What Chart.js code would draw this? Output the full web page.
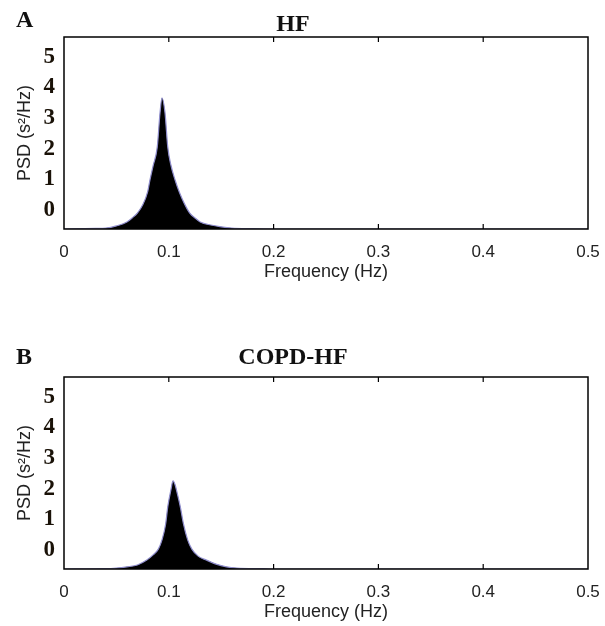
<!DOCTYPE html>
<html>
<head>
<meta charset="utf-8">
<script src="https://cdn.jsdelivr.net/npm/chart.js@4/dist/chart.umd.min.js"></script>
<style>
  html, body { margin: 0; padding: 0; background: #fff; overflow: hidden; }
  .panel { position: absolute; left: 0; width: 605px; height: 300px; }
</style>
</head>
<body>
<div class="panel" style="top:0px"><canvas id="chartA"></canvas></div>
<div class="panel" style="top:340px"><canvas id="chartB"></canvas></div>
<script>
// HF panel (A)
const hfFreq = [0, 0.03, 0.04, 0.05, 0.06, 0.065, 0.07, 0.075, 0.08, 0.082,
    0.085, 0.089, 0.0916, 0.0935, 0.0964, 0.099, 0.102, 0.106, 0.11, 0.115,
    0.12, 0.125, 0.13, 0.14, 0.15, 0.16, 0.18, 0.2, 0.5];
const hfPsd = [-0.62, -0.60, -0.59, -0.52, -0.39, -0.26, -0.10, 0.16, 0.62, 0.98,
    1.44, 2.06, 3.17, 3.66, 3.17, 2.06, 1.47, 0.98, 0.59, 0.20,
    -0.10, -0.26, -0.39, -0.49, -0.55, -0.59, -0.61, -0.62, -0.62];

// COPD-HF panel (B)
const copdFreq = [0, 0.04, 0.05, 0.06, 0.07, 0.079, 0.085, 0.09, 0.0935, 0.097,
    0.099, 0.102, 0.104, 0.106, 0.108, 0.111, 0.114, 0.118, 0.122, 0.128,
    0.136, 0.145, 0.155, 0.165, 0.19, 0.2, 0.5];
const copdPsd = [-0.62, -0.61, -0.59, -0.55, -0.49, -0.33, -0.16, 0.03, 0.33, 0.85,
    1.41, 1.96, 2.26, 2.13, 1.86, 1.41, 0.85, 0.33, 0.03, -0.20,
    -0.33, -0.46, -0.55, -0.59, -0.61, -0.62, -0.62];

const yTickValues = [0, 1, 2, 3, 4, 5];
const xMin = 0, xMax = 0.5, xStep = 0.1;
const yMin = -0.62, yMax = 5.65;

// box round the plot + inward tick marks top and bottom
const frameAndText = {
    id: 'frameAndText',
    afterDraw(chart, args, opts) {
        const ctx = chart.ctx;
        const area = chart.chartArea;
        const xs = chart.scales.x;
        ctx.save();
        ctx.strokeStyle = '#000';
        ctx.lineWidth = 1.5;
        ctx.strokeRect(area.left, area.top, area.right - area.left, area.bottom - area.top);
        ctx.lineWidth = 1.2;
        xs.ticks.forEach(t => {
            if (t.value <= xMin || t.value >= xMax) return;
            const px = xs.getPixelForValue(t.value);
            ctx.beginPath();
            ctx.moveTo(px, area.bottom);
            ctx.lineTo(px, area.bottom - 5);
            ctx.moveTo(px, area.top);
            ctx.lineTo(px, area.top + 5);
            ctx.stroke();
        });
        ctx.fillStyle = '#111';
        ctx.font = 'bold 24px "Liberation Serif", "Times New Roman", serif';
        ctx.textBaseline = 'middle';
        ctx.textAlign = 'left';
        ctx.fillText(opts.letter, 16, opts.letterY);
        ctx.textAlign = 'center';
        ctx.fillText(opts.title, opts.titleX, opts.titleY);
        ctx.restore();
    }
};

function makeChart(id, freq, psd, letter, title, letterY, titleY) {
    const pts = freq.map((f, i) => ({x: f, y: psd[i]}));
    return new Chart(document.getElementById(id), {
        type: 'line',
        data: {
            datasets: [{
                data: pts,
                borderColor: '#8f8dcc',
                borderWidth: 1.2,
                backgroundColor: '#000',
                fill: 'start',
                pointRadius: 0,
                cubicInterpolationMode: 'monotone'
            }]
        },
        options: {
            responsive: true,
            maintainAspectRatio: false,
            animation: false,
            layout: {padding: {top: 37, right: 17, left: 0, bottom: 0}},
            plugins: {
                legend: {display: false},
                tooltip: {enabled: false},
                frameAndText: {letter: letter, title: title, letterY: letterY, titleX: 293, titleY: titleY}
            },
            scales: {
                x: {
                    type: 'linear',
                    min: xMin,
                    max: xMax,
                    grid: {display: false, drawTicks: false},
                    border: {display: false},
                    ticks: {stepSize: xStep, padding: 13, color: '#222',
                        font: {family: 'Arial, "Liberation Sans", sans-serif', size: 17}},
                    title: {display: true, text: 'Frequency (Hz)', color: '#222',
                        font: {family: 'Arial, "Liberation Sans", sans-serif', size: 18},
                        padding: {top: 0, bottom: 17}},
                    afterFit: s => { s.height = 71; s.paddingLeft = 0; s.paddingRight = 0; }
                },
                y: {
                    min: yMin,
                    max: yMax,
                    grid: {display: false, drawTicks: false},
                    border: {display: false},
                    afterBuildTicks: s => { s.ticks = yTickValues.map(v => ({value: v})); },
                    ticks: {padding: 9, color: '#1a1208',
                        font: {family: '"Liberation Serif", "Times New Roman", serif', size: 23, weight: 'bold'}},
                    title: {display: true, text: 'PSD (s²/Hz)', color: '#222',
                        font: {family: 'Arial, "Liberation Sans", sans-serif', size: 18},
                        padding: {top: 14, bottom: 0}},
                    afterFit: s => { s.width = 64; s.paddingTop = 0; s.paddingBottom = 0; }
                }
            }
        },
        plugins: [frameAndText]
    });
}

makeChart('chartA', hfFreq, hfPsd, 'A', 'HF', 21, 25);
makeChart('chartB', copdFreq, copdPsd, 'B', 'COPD-HF', 18, 18);
</script>
</body>
</html>
